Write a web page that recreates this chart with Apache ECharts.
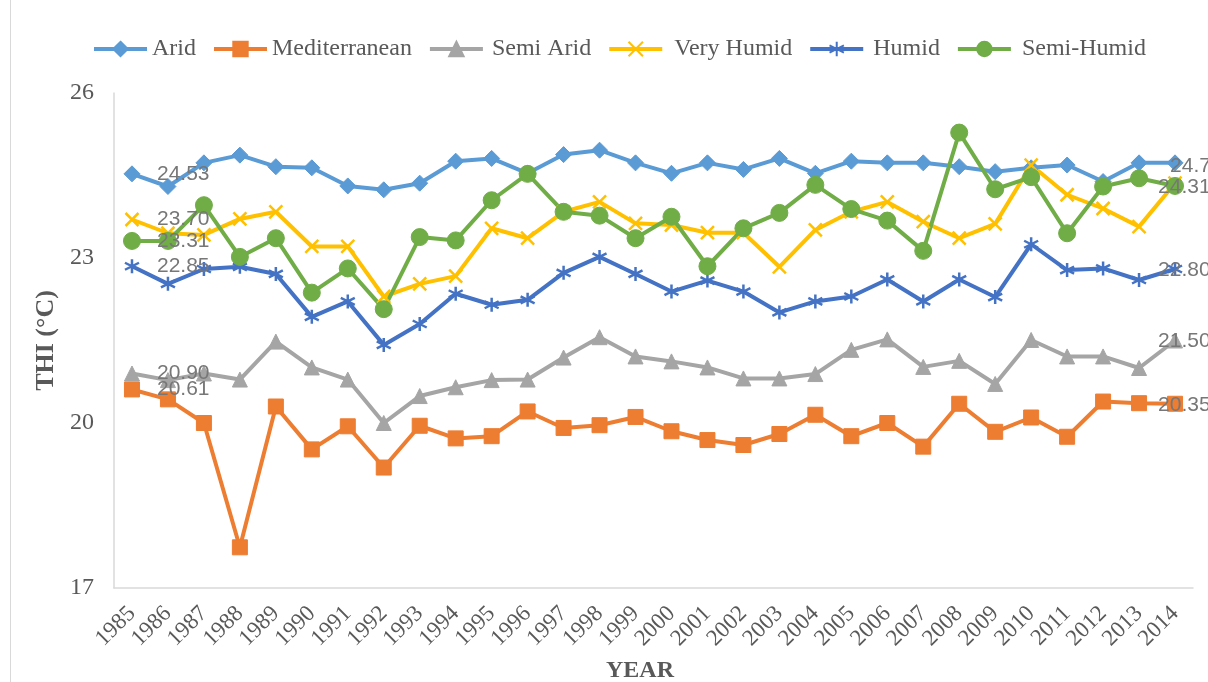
<!DOCTYPE html>
<html><head><meta charset="utf-8">
<script src="https://cdn.jsdelivr.net/npm/echarts@6/dist/echarts.min.js"></script>
<style>html,body{margin:0;padding:0;background:#fff}#c{width:1208px;height:682px}</style>
</head><body><div id="c"></div>
<script>
const years = ['1985','1986','1987','1988','1989','1990','1991','1992','1993','1994','1995','1996','1997','1998','1999','2000','2001','2002','2003','2004','2005','2006','2007','2008','2009','2010','2011','2012','2013','2014'];
const yTicks = [17, 20, 23, 26];
const arid = [24.53,24.30,24.73,24.87,24.66,24.64,24.31,24.24,24.36,24.76,24.81,24.54,24.88,24.96,24.73,24.54,24.73,24.61,24.81,24.54,24.76,24.73,24.73,24.66,24.57,24.64,24.69,24.39,24.73,24.73];
const mediterranean = [20.61,20.43,20.00,17.74,20.30,19.52,19.94,19.19,19.95,19.72,19.76,20.21,19.91,19.96,20.11,19.85,19.69,19.60,19.80,20.15,19.76,20.00,19.57,20.35,19.84,20.10,19.75,20.39,20.36,20.35];
const semiArid = [20.90,20.78,20.90,20.79,21.48,21.01,20.79,20.00,20.49,20.65,20.78,20.79,21.19,21.56,21.21,21.12,21.01,20.81,20.81,20.89,21.33,21.52,21.02,21.13,20.71,21.51,21.21,21.21,21.00,21.50];
const veryHumid = [23.70,23.45,23.42,23.71,23.84,23.21,23.21,22.30,22.53,22.67,23.54,23.36,23.84,24.02,23.63,23.60,23.46,23.46,22.84,23.51,23.84,24.02,23.66,23.36,23.62,24.69,24.15,23.90,23.57,24.36];
const humid = [22.85,22.53,22.80,22.84,22.71,21.93,22.21,21.42,21.80,22.35,22.15,22.24,22.73,23.02,22.71,22.39,22.59,22.39,22.01,22.21,22.30,22.61,22.21,22.61,22.29,23.25,22.78,22.81,22.60,22.80];
const semiHumid = [23.31,23.31,23.96,23.02,23.36,22.37,22.81,22.07,23.38,23.32,24.05,24.53,23.84,23.77,23.36,23.75,22.85,23.54,23.82,24.33,23.89,23.68,23.13,25.28,24.25,24.47,23.45,24.30,24.45,24.31];

const serif = '"Liberation Serif", "Times New Roman", serif';
const labelBase = {show: true, position: 'inside', align: 'left', verticalAlign: 'middle',
  color: '#777777', fontFamily: '"Liberation Sans", Arial, sans-serif', fontSize: 21,
  formatter: p => p.value.toFixed(2)};

function build(vals, showLast, lastOffset) {
  return vals.map((v, i) => {
    if (i === 0) return {value: v, label: Object.assign({}, labelBase, {offset: [25, 0]})};
    if (i === vals.length - 1 && showLast) return {value: v, label: Object.assign({}, labelBase, {offset: lastOffset})};
    return v;
  });
}

const X_PATH = 'path://M0,0L10,10M0,10L10,0';
const STAR_PATH = 'path://M5,0L5,10M0.7,2.5L9.3,7.5M0.7,7.5L9.3,2.5';

function line(name, color, vals, symbol, size, showLast, lastOffset, stroke) {
  return {
    name, type: 'line', data: build(vals, showLast, lastOffset),
    symbol, symbolSize: size, showSymbol: true,
    lineStyle: {color, width: 4},
    itemStyle: {color, borderColor: color, borderWidth: stroke ? 2.5 : 1},
    emphasis: {disabled: true},
    z: 2
  };
}

const chart = echarts.init(document.getElementById('c'));
chart.setOption({
  animation: false,
  backgroundColor: '#ffffff',
  graphic: [{type: 'line', shape: {x1: 10.5, y1: 0, x2: 10.5, y2: 682}, style: {stroke: '#d9d9d9', lineWidth: 1}}],
  legend: {
    left: 87, top: 32, itemWidth: 53, itemHeight: 18, itemGap: 16,
    lineStyle: {width: 4},
    textStyle: {fontFamily: serif, fontSize: 24, color: '#595959'},
    data: [
      {name: 'Arid'}, {name: 'Mediterranean'}, {name: 'Semi Arid', textStyle: {padding: [0, 0, 0, 4]}},
      {name: 'Very Humid', textStyle: {padding: [0, 0, 0, 7]}}, {name: 'Humid', textStyle: {padding: [0, 0, 0, 5]}},
      {name: 'Semi-Humid', textStyle: {padding: [0, 0, 0, 6]}}
    ]
  },
  grid: {left: 114, right: 15, top: 93, bottom: 94, containLabel: false, outerBoundsMode: 'none'},
  xAxis: {
    type: 'category', data: years, boundaryGap: true,
    axisLine: {lineStyle: {color: '#d9d9d9', width: 1.5}},
    axisTick: {show: false},
    axisLabel: {rotate: 45, fontFamily: serif, fontSize: 23, color: '#595959', margin: 22, interval: 0},
    name: 'YEAR', nameLocation: 'middle', nameGap: 71,
    nameTextStyle: {fontFamily: serif, fontWeight: 'bold', fontSize: 24, color: '#595959', padding: [0, 27, 0, 0]}
  },
  yAxis: {
    type: 'value', min: yTicks[0], max: yTicks[yTicks.length - 1], interval: yTicks[1] - yTicks[0],
    splitLine: {show: false},
    axisLine: {show: true, lineStyle: {color: '#d9d9d9', width: 1.5}},
    axisTick: {show: false},
    axisLabel: {fontFamily: serif, fontSize: 24, color: '#595959', margin: 20},
    name: 'THI (°C)', nameLocation: 'middle', nameGap: 46,
    nameTextStyle: {fontFamily: serif, fontWeight: 'bold', fontSize: 26, color: '#595959'}
  },
  series: [
    line('Arid', '#5B9BD5', arid, 'diamond', 16, true, [-5, 3], false),
    line('Mediterranean', '#ED7D31', mediterranean, 'rect', 15, true, [-17, 1], false),
    line('Semi Arid', '#A5A5A5', semiArid, 'triangle', 15, true, [-17, 1], false),
    line('Very Humid', '#FFC000', veryHumid, X_PATH, 13, false, null, true),
    line('Humid', '#4472C4', humid, STAR_PATH, 14, true, [-17, 1], true),
    line('Semi-Humid', '#70AD47', semiHumid, 'circle', 17, true, [-17, 1], false)
  ]
});
</script>
</body></html>
